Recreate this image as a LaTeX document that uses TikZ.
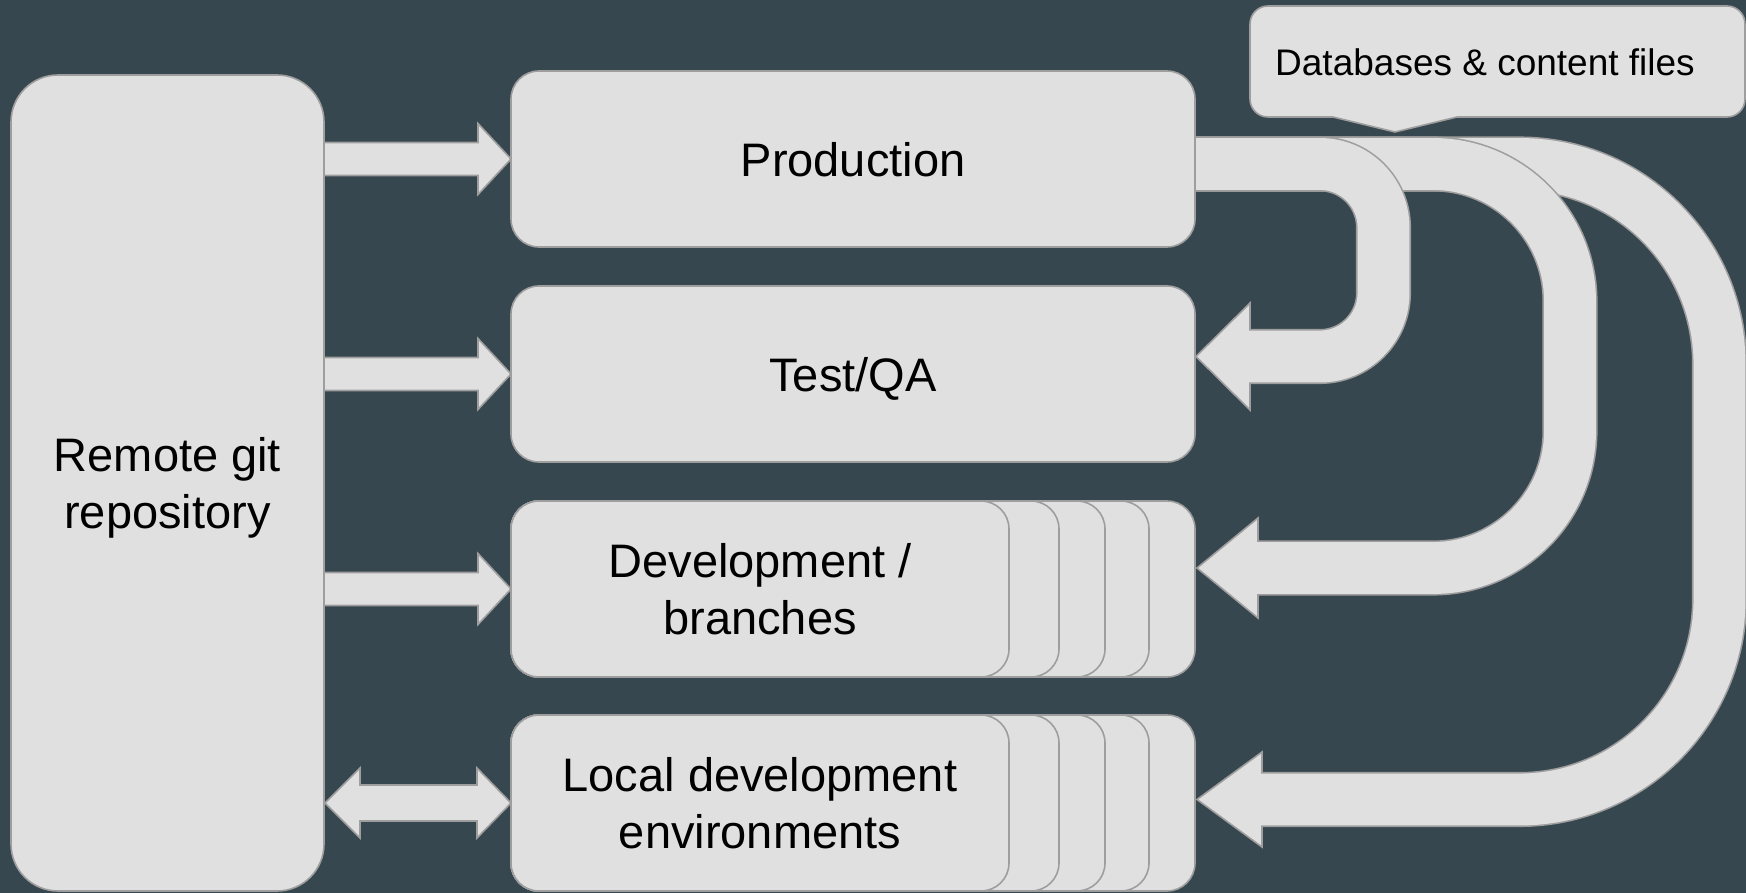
\documentclass[tikz,border=0pt]{standalone}
\usepackage{fontspec}
\setmainfont{Liberation Sans}
\usetikzlibrary{calc}
\definecolor{bgc}{HTML}{37474F}
\definecolor{boxc}{HTML}{E0E0E0}
\definecolor{edgec}{HTML}{9E9E9E}
\newcommand{\biglbl}{\fontsize{47}{57.5}\selectfont}
\newcommand{\smalllbl}{\fontsize{37}{44}\selectfont}
\tikzset{
  panel/.style={draw=edgec, fill=boxc, line width=1.6pt, inner sep=0pt, outer sep=0pt,
    rounded corners=28pt, minimum height=176pt, align=center, text=black,
    font=\biglbl, text depth=0pt},
  blk/.style={draw=edgec, fill=boxc, line width=1.6pt, line join=miter},
  bandout/.style={draw=edgec, line width=55.1pt, rounded corners=#1},
  bandin/.style={draw=boxc, line width=51.9pt, rounded corners=#1},
}
% straight block arrow: #1 start (on left box), #2 tip
\newcommand{\gitarrow}[2]{%
  \draw[blk] ($(#1)+(0,-16.5)$) -- ($(#2)+(-33,-16.5)$) -- ($(#2)+(-33,-35.5)$) -- (#2)
    -- ($(#2)+(-33,35.5)$) -- ($(#2)+(-33,16.5)$) -- ($(#1)+(0,16.5)$) -- cycle;}
% bent block arrow: #1 start, #2 tip, #3 vertical x coordinate, #4 radius, #5 head length, #6 head half height
\newcommand{\bentarrow}[6]{%
  \draw[bandout=#4] (#1) -- (#1 -| #3) -- (#3 |- #2) -- ($(#2)+(#5,0)$);
  \draw[blk] (#2) -- ($(#2)+(#5,-#6)$) -- ($(#2)+(#5,#6)$) -- cycle;
  \draw[bandin=#4] (#1) -- (#1 -| #3) -- (#3 |- #2) -- ($(#2)+(#5-2,0)$);}
\begin{document}
\begin{tikzpicture}[x=1pt,y=-1pt]
\useasboundingbox (0,0) rectangle (1746,893);
\fill[bgc] (0,0) rectangle (1746,893);

% boxes
\node[panel, rounded corners=47pt, minimum width=313pt, minimum height=816pt] (remote) at (167.5,483) {Remote git\\repository};
\node[panel, minimum width=684pt] (prod) at (853,159) {Production};
\node[panel, minimum width=684pt] (test) at (853,374) {Test/QA};

\node[panel, minimum width=684pt] (dev) at (853,589) {};
\node[panel, anchor=west, minimum width=638pt] (dev3) at (dev.west) {};
\node[panel, anchor=west, minimum width=594pt] (dev2) at (dev.west) {};
\node[panel, anchor=west, minimum width=548pt] (dev1) at (dev.west) {};
\node[panel, anchor=west, minimum width=498pt] (devfront) at (dev.west) {Development /\\branches};

\node[panel, minimum width=684pt] (local) at (853,803) {};
\node[panel, anchor=west, minimum width=638pt] (local3) at (local.west) {};
\node[panel, anchor=west, minimum width=594pt] (local2) at (local.west) {};
\node[panel, anchor=west, minimum width=548pt] (local1) at (local.west) {};
\node[panel, anchor=west, minimum width=498pt] (localfront) at (local.west) {Local development\\environments};

% callout
\node[panel, rounded corners=18pt, minimum width=495pt, minimum height=111pt] (callout) at (1497.5,61.5) {};
\fill[boxc] ($(callout.south)+(-164.5,-2)$) -- ($(callout.south)+(-40.5,-2)$) -- ($(callout.south)+(-40.5,0)$)
  -- ($(callout.south)+(-102.5,15)$) -- ($(callout.south)+(-164.5,0)$) -- cycle;
\draw[edgec, line width=1.6pt, line join=miter] ($(callout.south)+(-164.5,0)$) -- ($(callout.south)+(-102.5,15)$) -- ($(callout.south)+(-40.5,0)$);
\node[anchor=base west, font=\smalllbl, text=black, inner sep=0pt] (calltext) at (1275,76) {Databases \& content files};

% arrows from the remote repository
\coordinate (s1) at (remote.east |- prod.west);
\coordinate (s2) at (remote.east |- test.west);
\coordinate (s3) at (remote.east |- dev.west);
\gitarrow{s1}{prod.west}
\gitarrow{s2}{test.west}
\gitarrow{s3}{dev.west}
\coordinate (dl) at ($(remote.east |- local.west)+(1,0)$);
\coordinate (dr) at (local.west);
\draw[blk] (dl) -- ($(dl)+(35,-35)$) -- ($(dl)+(35,-18)$) -- ($(dr)+(-34,-18)$) -- ($(dr)+(-34,-35)$) -- (dr)
  -- ($(dr)+(-34,35)$) -- ($(dr)+(-34,18)$) -- ($(dl)+(35,18)$) -- ($(dl)+(35,35)$) -- cycle;

% bent arrows from production
\coordinate (p0) at ($(prod.east)+(1,5)$);
\coordinate (ta) at ($(test.east)+(1,-17.5)$);
\coordinate (tb) at ($(dev.east)+(2,-21)$);
\coordinate (tc) at ($(local.east)+(2,-3.5)$);
\coordinate (va) at (1383.5,0);
\coordinate (vb) at (1570,0);
\coordinate (vc) at (1719.5,0);
\bentarrow{p0}{tc}{vc}{200pt}{65}{47.5}
\bentarrow{p0}{tb}{vb}{137pt}{61}{50}
\bentarrow{p0}{ta}{va}{63.5pt}{54}{53.5}
\end{tikzpicture}
\end{document}
